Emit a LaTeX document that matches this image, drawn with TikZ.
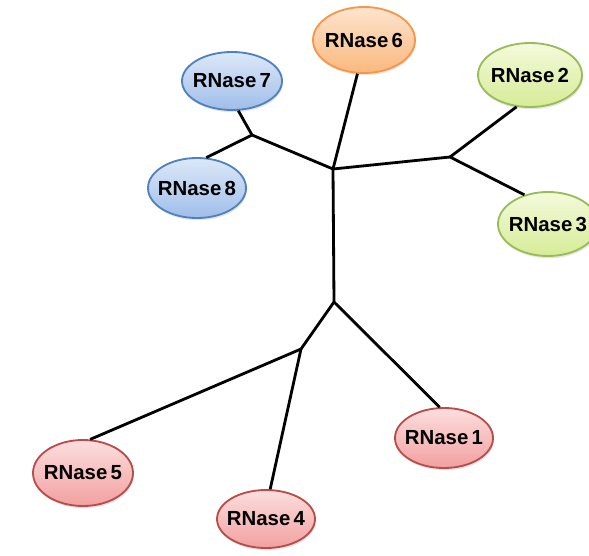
\documentclass[tikz,border=0pt]{standalone}
\usepackage{fontspec}
\setmainfont{Liberation Sans}
\usepackage{tikz}
\usetikzlibrary{shapes.geometric,shadows}
\definecolor{redline}{RGB}{185,75,72}
\definecolor{redtop}{RGB}{252,222,222}
\definecolor{redbot}{RGB}{242,160,160}
\definecolor{blueline}{RGB}{79,129,189}
\definecolor{bluetop}{RGB}{220,232,248}
\definecolor{bluebot}{RGB}{160,190,234}
\definecolor{orline}{RGB}{247,150,70}
\definecolor{ortop}{RGB}{253,228,206}
\definecolor{orbot}{RGB}{250,184,126}
\definecolor{grline}{RGB}{155,187,89}
\definecolor{grtop}{RGB}{244,250,220}
\definecolor{grbot}{RGB}{214,236,150}
\newcommand{\rn}[1]{\makebox[0pt]{RNase\,#1}}

\begin{document}
\begin{tikzpicture}[
	rnase/.style={ellipse,draw,line width=1.3pt,inner sep=0pt,
		minimum width=2.5cm,minimum height=1.55cm,
		font=\fontsize{14.5}{16}\selectfont\bfseries,
		drop shadow={opacity=0.2,shadow xshift=0.6pt,shadow yshift=-1.6pt}},
	redn/.style={rnase,draw=redline,top color=redtop,bottom color=redbot},
	bluen/.style={rnase,draw=blueline,top color=bluetop,bottom color=bluebot},
	orn/.style={rnase,draw=orline,top color=ortop,bottom color=orbot},
	grn/.style={rnase,draw=grline,top color=grtop,bottom color=grbot},
	branch/.style={line width=2pt,black}]
	\useasboundingbox[fill=white] (0,0) rectangle (14.725,13.875);
	
	\node[orn,minimum width=2.55cm,minimum height=1.65cm] (r6) at (9.10,12.875) {\rn{6}};
	\node[bluen,minimum height=1.45cm] (r7) at (5.80,11.85) {\rn{7}};
	\node[bluen,minimum width=2.45cm,minimum height=1.5cm] (r8) at (4.925,9.175) {\rn{8}};
	\node[grn,minimum width=2.6cm,minimum height=1.6cm] (r2) at (13.25,12.0) {\rn{2}};
	\node[grn,minimum height=1.6cm] (r3) at (13.70,8.275) {\rn{3}};
	\node[redn,minimum height=1.65cm] (r5) at (2.075,2.05) {\rn{5}};
	\node[redn,minimum width=2.45cm,minimum height=1.45cm] (r4) at (6.65,0.90) {\rn{4}};
	\node[redn,minimum width=2.45cm,minimum height=1.5cm] (r1) at (11.10,2.925) {\rn{1}};
	
	\coordinate (a) at (8.325,9.65);
	\coordinate (b) at (6.30,10.50);
	\coordinate (c) at (11.25,9.95);
	\coordinate (d) at (8.35,6.325);
	\coordinate (e) at (7.525,5.15);
	
	\path[branch]
	(a) edge (r6.259)
	(a) edge (b)
	(b) edge (r7.282)
	(b) edge (r8.73)
	(a) edge (c)
	(c) edge (r2.247)
	(c) edge (r3.129)
	(a) edge (d)
	(d) edge (r1.98)
	(d) edge (e)
	(e) edge (r5.78)
	(e) edge (r4.82);
	
\end{tikzpicture}
\end{document}
